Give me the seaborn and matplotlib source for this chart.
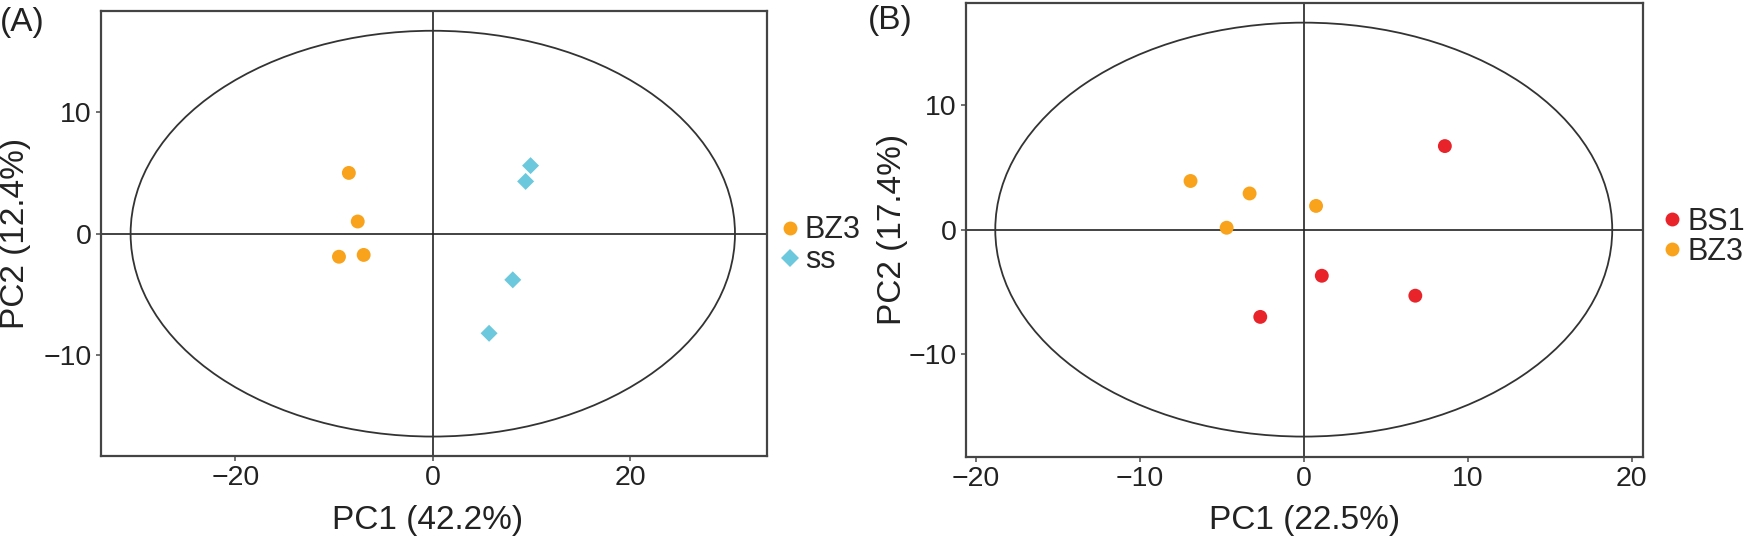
import numpy as np
import pandas as pd
import matplotlib
matplotlib.use("Agg")
import matplotlib.pyplot as plt
from matplotlib.patches import Ellipse
import seaborn as sns

sns.set_style("white")
plt.rcParams["font.family"] = ["Liberation Sans", "DejaVu Sans"]

# Panel A data
a_groups = ["BZ3", "BZ3", "BZ3", "BZ3", "ss", "ss", "ss", "ss"]
a_pc1 = [-8.5, -7.6, -9.5, -7.0, 9.9, 9.4, 8.1, 5.7]
a_pc2 = [5.0, 1.0, -1.9, -1.75, 5.6, 4.3, -3.8, -8.2]
a_ellipse = (30.6, 16.7)          # semi-axes of the confidence ellipse
a_xlim = (-33.6, 33.8)
a_ylim = (-18.3, 18.3)
a_xticks = [-20, 0, 20]
a_yticks = [-10, 0, 10]

# Panel B data
b_groups = ["BZ3", "BZ3", "BZ3", "BZ3", "BS1", "BS1", "BS1", "BS1"]
b_pc1 = [-6.9, -3.3, 0.75, -4.7, 8.6, 1.1, 6.8, -2.65]
b_pc2 = [3.9, 2.9, 1.9, 0.15, 6.7, -3.7, -5.3, -7.0]
b_ellipse = (18.8, 16.6)
b_xlim = (-20.6, 20.7)
b_ylim = (-18.2, 18.2)
b_xticks = [-20, -10, 0, 10, 20]
b_yticks = [-10, 0, 10]

colors = {"BZ3": "#F9A21B", "ss": "#6CC8DC", "BS1": "#E8242A"}

df_a = pd.DataFrame({"PC1": a_pc1, "PC2": a_pc2, "group": a_groups})
df_b = pd.DataFrame({"PC1": b_pc1, "PC2": b_pc2, "group": b_groups})

fig = plt.figure(figsize=(17.47, 5.39), dpi=100)
ax_a = fig.add_axes([0.0578, 0.154, 0.381, 0.825])
ax_b = fig.add_axes([0.5528, 0.153, 0.3879, 0.842])


def style_axes(ax, xlim, ylim, xticks, yticks, semi, xlabel, ylabel,
               xlab_pos, ylab_pos):
    ax.set_xlim(xlim)
    ax.set_ylim(ylim)
    ax.set_xticks(xticks)
    ax.set_yticks(yticks)
    ax.set_xticklabels([str(t).replace("-", "\u2212") for t in xticks])
    ax.set_yticklabels([str(t).replace("-", "\u2212") for t in yticks])
    ax.axhline(0, color="#222222", lw=1.2, zorder=1)
    ax.axvline(0, color="#222222", lw=1.2, zorder=1)
    ax.add_patch(Ellipse((0, 0), 2 * semi[0], 2 * semi[1], fill=False,
                         ec="#333333", lw=1.3, zorder=1))
    for sp in ax.spines.values():
        sp.set_color("#444444")
        sp.set_linewidth(1.6)
    ax.tick_params(axis="both", direction="out", length=3.5, width=1.3,
                   color="#666666", labelsize=20.5, labelcolor="#222222",
                   bottom=True, left=True, pad=3)
    ax.set_xlabel(xlabel, fontsize=24, color="#222222")
    ax.set_ylabel(ylabel, fontsize=24, color="#222222")
    ax.xaxis.set_label_coords(*xlab_pos)
    ax.xaxis.label.set_va("center")
    ax.yaxis.set_label_coords(*ylab_pos)
    ax.yaxis.label.set_rotation_mode("default")
    ax.yaxis.label.set_va("center")
    ax.yaxis.label.set_ha("center")


# Panel A
sns.scatterplot(data=df_a, x="PC1", y="PC2", hue="group", style="group",
                size="group", sizes={"BZ3": 100, "ss": 75},
                palette=colors, markers={"BZ3": "o", "ss": "D"},
                linewidth=0, ax=ax_a, zorder=3)
style_axes(ax_a, a_xlim, a_ylim, a_xticks, a_yticks, a_ellipse,
           "PC1 (42.2%)", "PC2 (12.4%)", (0.49, -0.146), (-0.129, 0.5))
ax_a.legend(title=None, frameon=False, loc="center left",
            bbox_to_anchor=(1.0, 0.474), fontsize=22, handletextpad=0.1,
            handlelength=0.8, labelspacing=0.0, borderaxespad=0.25,
            borderpad=0.1)

# Panel B
sns.scatterplot(data=df_b, x="PC1", y="PC2", hue="group",
                hue_order=["BS1", "BZ3"], palette=colors,
                s=100, linewidth=0, ax=ax_b, zorder=3)
style_axes(ax_b, b_xlim, b_ylim, b_xticks, b_yticks, b_ellipse,
           "PC1 (22.5%)", "PC2 (17.4%)", (0.5, -0.142), (-0.108, 0.5))
ax_b.legend(title=None, frameon=False, loc="center left",
            bbox_to_anchor=(1.0, 0.484), fontsize=22, handletextpad=0.1,
            handlelength=0.8, labelspacing=0.0, borderaxespad=0.45,
            borderpad=0.1)

fig.text(0.0, 0.958, "(A)", fontsize=24, color="#222222", va="center", ha="left")
fig.text(0.497, 0.962, "(B)", fontsize=24, color="#222222", va="center", ha="left")

fig.savefig("out.png", dpi=100)
